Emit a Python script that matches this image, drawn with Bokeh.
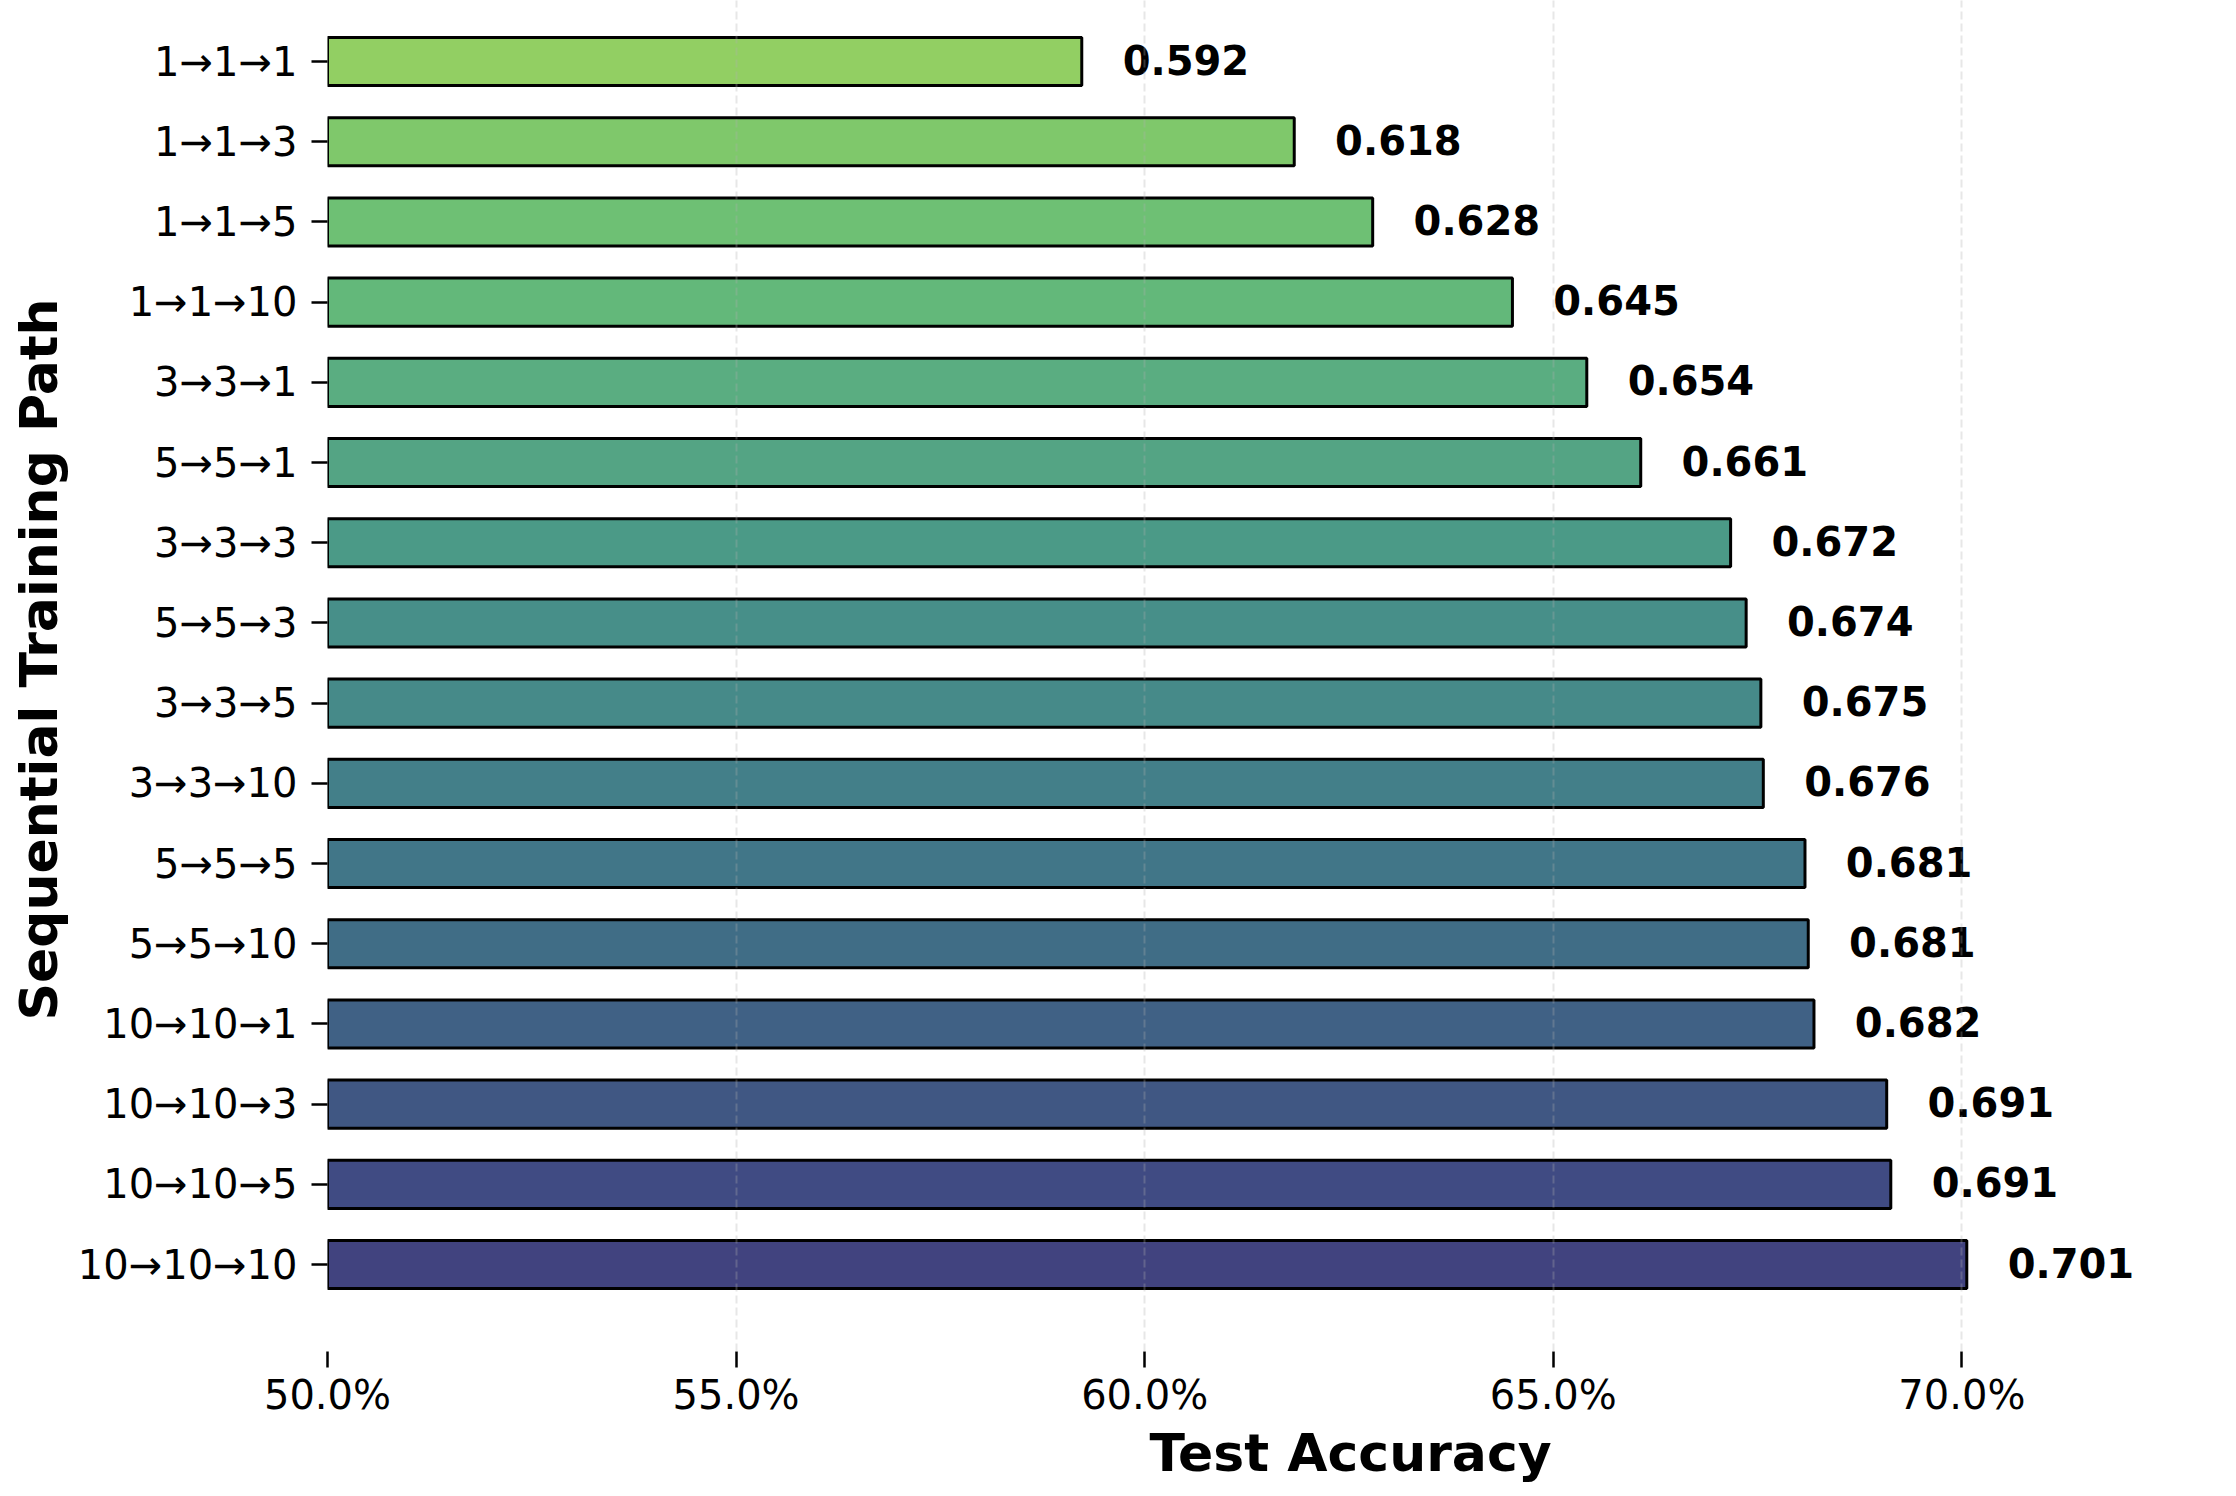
from bokeh.plotting import figure
from bokeh.models import Range1d, FixedTicker, NumeralTickFormatter, Title, ColumnDataSource
from bokeh.core.properties import value
from bokeh.embed import file_html
from bokeh.resources import INLINE

# ---- data (top to bottom as in the chart) ----
paths = ["1→1→1", "1→1→3", "1→1→5", "1→1→10", "3→3→1", "5→5→1", "3→3→3", "5→5→3",
         "3→3→5", "3→3→10", "5→5→5", "5→5→10", "10→10→1", "10→10→3", "10→10→5", "10→10→10"]
accuracy = [0.5923, 0.6183, 0.6279, 0.6450, 0.6541, 0.6607, 0.6717, 0.6736,
            0.6754, 0.6757, 0.6808, 0.6812, 0.6819, 0.6908, 0.6913, 0.7006]
x_ticks = [0.50, 0.55, 0.60, 0.65, 0.70]
x_label = "Test Accuracy"
y_label = "Sequential Training Path"

# muted viridis-like palette, one colour per bar (top to bottom)
bar_colors = ["#92cf63", "#7fc86b", "#6ec074", "#63b87a", "#5aad81", "#54a484", "#4b9a87", "#478f89",
              "#468a89", "#437f89", "#417688", "#406d86", "#406185", "#405783", "#404b83", "#41437f"]

FONT = "DejaVu Sans"
n = len(paths)
ypos = [n - 1 - i for i in range(n)]
labels = [f"{v:.3f}" for v in accuracy]

src = ColumnDataSource(dict(y=ypos, acc=accuracy, color=bar_colors,
                            lx=[v + 0.005 for v in accuracy], lab=labels))

p = figure(width=2230, height=1490, output_backend="svg", toolbar_location=None,
           x_range=Range1d(0.5, 0.73287), y_range=Range1d(-1.084, 15.761),
           min_border_left=327, min_border_right=0, min_border_top=0, min_border_bottom=139)
p.outline_line_color = None
p.background_fill_color = "white"
p.border_fill_color = "white"

p.hbar(y="y", left=0, right="acc", height=0.6, source=src,
       fill_color="color", fill_alpha=1.0, line_color="black", line_width=3)

p.text(x="lx", y="y", text="lab", source=src, text_align="left", text_baseline="middle",
       y_offset=-2, text_font=value(FONT), text_font_style="bold", text_font_size="40px",
       text_color="black")

# axes
xa = p.xaxis[0]
xa.ticker = FixedTicker(ticks=x_ticks)
xa.formatter = NumeralTickFormatter(format="0.0%")
ya = p.yaxis[0]
ya.ticker = FixedTicker(ticks=ypos)
ya.major_label_overrides = {y: lab for y, lab in zip(ypos, paths)}
for ax in (xa, ya):
    ax.axis_line_color = None
    ax.minor_tick_line_color = None
    ax.major_tick_in = 0
    ax.major_tick_out = 16
    ax.major_tick_line_width = 2.5
    ax.major_tick_line_color = "black"
    ax.major_label_text_font = FONT
    ax.major_label_text_font_size = "40px"
    ax.major_label_text_color = "black"
xa.major_label_standoff = 4
ya.major_label_standoff = 14

p.ygrid.visible = False
p.xgrid.grid_line_color = "#b0b0b0"
p.xgrid.grid_line_alpha = 0.3
p.xgrid.grid_line_dash = "8 4"
p.xgrid.grid_line_width = 2
p.xgrid.level = "overlay"

p.add_layout(Title(text=x_label, align="left", offset=822, standoff=0,
                   text_font=FONT, text_font_style="bold", text_font_size="52px",
                   text_color="black"), "below")
p.add_layout(Title(text=y_label, align="left", offset=331, standoff=12,
                   text_font=FONT, text_font_style="bold", text_font_size="52px",
                   text_color="black"), "left")

open("out.html", "w").write(file_html(p, INLINE))
